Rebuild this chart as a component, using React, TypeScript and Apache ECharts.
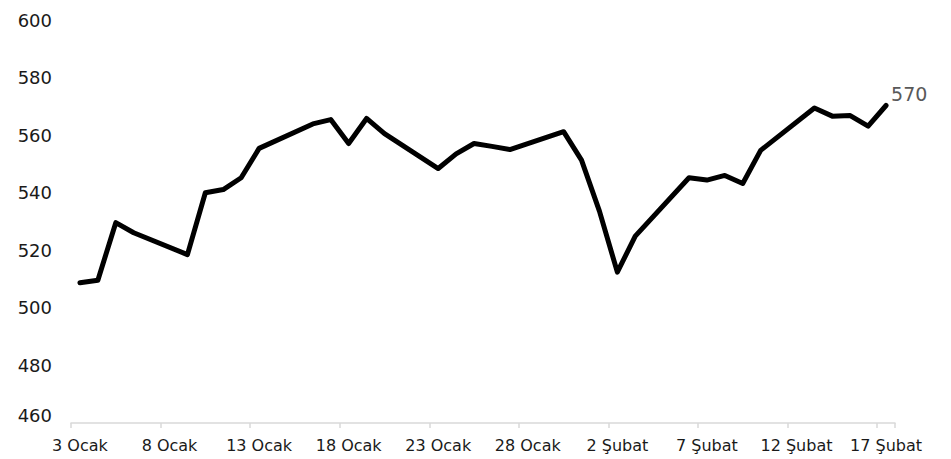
import React, { useEffect, useRef } from "react";
import * as echarts from "echarts";

const categories: string[] = [
  "3 Ocak", "4 Ocak", "5 Ocak", "6 Ocak", "7 Ocak", "8 Ocak", "9 Ocak", "10 Ocak",
  "11 Ocak", "12 Ocak", "13 Ocak", "14 Ocak", "15 Ocak", "16 Ocak", "17 Ocak", "18 Ocak",
  "19 Ocak", "20 Ocak", "21 Ocak", "22 Ocak", "23 Ocak", "24 Ocak", "25 Ocak", "26 Ocak",
  "27 Ocak", "28 Ocak", "29 Ocak", "30 Ocak", "31 Ocak", "1 Şubat", "2 Şubat", "3 Şubat",
  "4 Şubat", "5 Şubat", "6 Şubat", "7 Şubat", "8 Şubat", "9 Şubat", "10 Şubat", "11 Şubat",
  "12 Şubat", "13 Şubat", "14 Şubat", "15 Şubat", "16 Şubat", "17 Şubat",
];

// null = weekend (no trading), connected through
const values: (number | null)[] = [
  508.7, 509.6, 529.6, 526.1, null, null, 518.5, 540.0,
  541.1, 545.2, 555.4, null, null, 563.9, 565.4, 557.1,
  565.8, 560.5, null, null, 548.4, 553.5, 557.1, 556.1,
  555.0, null, null, 561.2, 551.3, 533.6, 512.4, 524.9,
  null, null, 545.2, 544.4, 546.0, 543.2, 554.7, null,
  null, 569.4, 566.6, 566.8, 563.1, 570.3,
];

const yMin = 460;
const yMax = 600;
const yStep = 20;
const endLabelText = "570";

export default function App() {
  const ref = useRef<HTMLDivElement>(null);
  useEffect(() => {
    document.body.style.margin = "0";
    if (!ref.current) return;
    const chart = echarts.init(ref.current, undefined, { renderer: "svg" });
    const font = "DejaVu Sans";
    chart.setOption({
      animation: false,
      grid: { left: 71, right: 56, top: 20, bottom: 36, containLabel: false },
      xAxis: {
        type: "category",
        data: categories,
        boundaryGap: true,
        axisLine: { show: true, lineStyle: { color: "#d9d9d9", width: 1.5 } },
        axisTick: { show: true, interval: 4, length: 5, lineStyle: { color: "#d9d9d9", width: 1.5 } },
        axisLabel: {
          interval: 4,
          margin: 14,
          color: "#1a1a1a",
          fontSize: 16,
          fontFamily: font,
        },
        splitLine: { show: false },
      },
      yAxis: {
        type: "value",
        min: yMin,
        max: yMax,
        interval: yStep,
        axisLine: { show: false },
        axisTick: { show: false },
        splitLine: { show: false },
        axisLabel: {
          margin: 19,
          color: "#1a1a1a",
          fontSize: 18,
          fontFamily: font,
          formatter: (v: number) => (v === yMin ? "{low|" + v + "}" : String(v)),
          rich: {
            low: { fontSize: 18, fontFamily: font, color: "#1a1a1a", padding: [0, 0, 16, 0] },
          },
        },
      },
      series: [
        {
          type: "line",
          data: values,
          connectNulls: true,
          showSymbol: false,
          symbol: "none",
          lineStyle: { color: "#000000", width: 5, cap: "round", join: "round" },
          endLabel: {
            show: true,
            formatter: endLabelText,
            color: "#595959",
            fontSize: 19,
            fontFamily: font,
            distance: 5,
            offset: [0, -11],
          },
        },
      ],
    });
    return () => chart.dispose();
  }, []);
  return <div ref={ref} style={{ width: 951, height: 459 }} />;
}
